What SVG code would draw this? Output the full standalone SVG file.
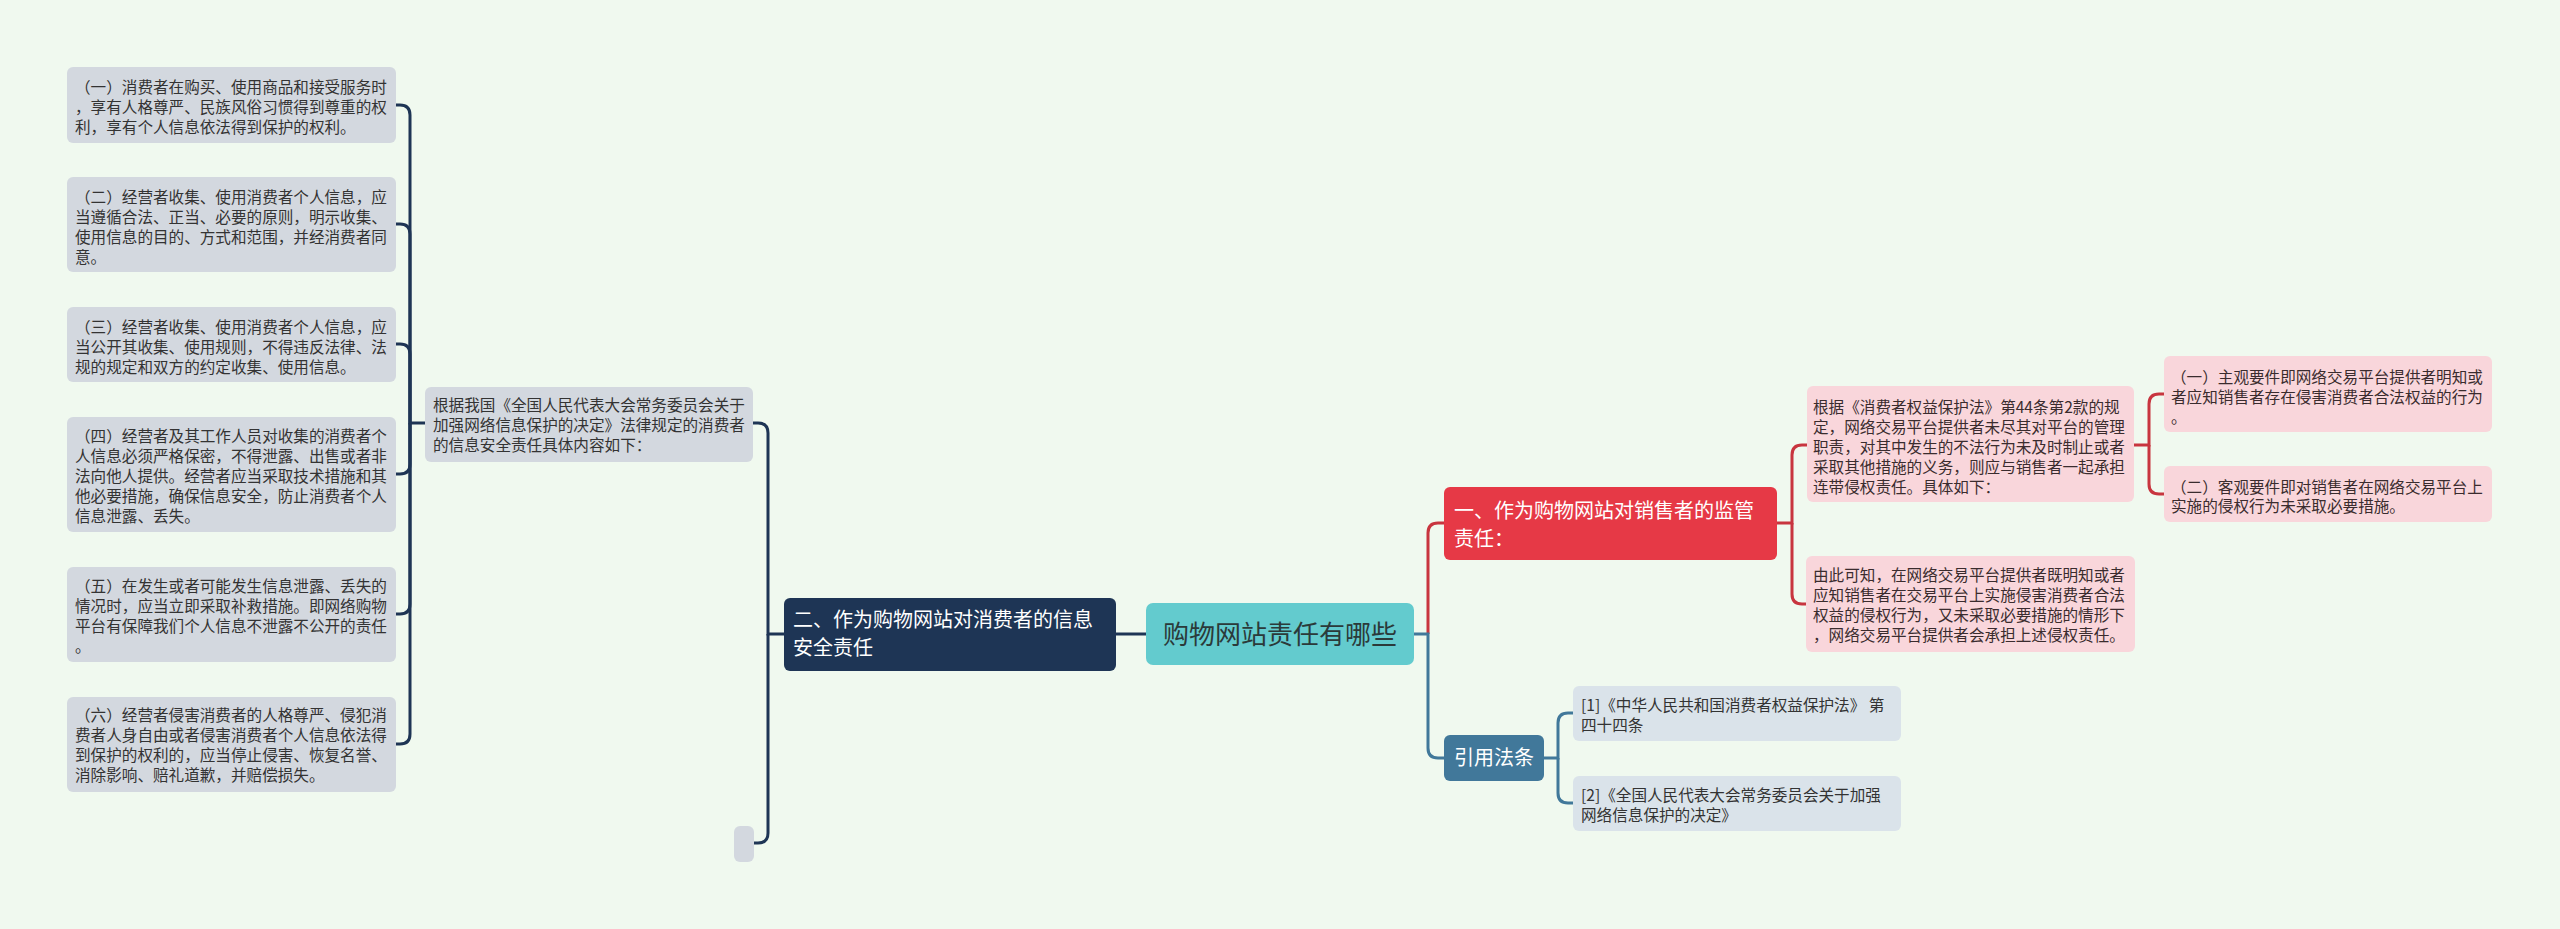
<svg xmlns="http://www.w3.org/2000/svg" width="2560" height="929" viewBox="0 0 2560 929">
<style>
text{font-family:"Noto Sans CJK SC","Noto Sans",sans-serif;}
.leaf rect{fill:#D3D8DF;}
.leaf text{font-size:15.6px;fill:#333;}
.pink rect{fill:#F9D6DB;}
.pink text{font-size:15.6px;fill:#3a2c2e;}
.ref rect{fill:#DAE3EA;}
.ref text{font-size:15.6px;fill:#333;}
.big text{font-size:20px;fill:#fff;}
.c{fill:none;stroke-width:3;}
.navy{stroke:#1E3555;}
.red{stroke:#C8353F;}
.blue{stroke:#41789A;}
</style>
<rect width="2560" height="929" fill="#F0F9EF"/>
<g id="connectors">
<path class="c navy" d="M1146,634 H1116"/>
<path class="c navy" d="M784,634 H768 V433 Q768,423 758,423 H753"/>
<path class="c navy" d="M768,634 V833 Q768,843 758,843 H754"/>
<path class="c navy" d="M425,423 H410 V115 Q410,105 400,105 H396"/>
<path class="c navy" d="M410,423 V234 Q410,224 400,224 H396"/>
<path class="c navy" d="M410,423 V354 Q410,344 400,344 H396"/>
<path class="c navy" d="M410,423 V464 Q410,474 400,474 H396"/>
<path class="c navy" d="M410,423 V604 Q410,614 400,614 H396"/>
<path class="c navy" d="M410,423 V734 Q410,744 400,744 H396"/>
<path class="c red" d="M1428,634 V533 Q1428,523 1438,523 H1444"/>
<path class="c blue" d="M1414,634 H1428 V748 Q1428,758 1438,758 H1444"/>
<path class="c red" d="M1777,523 H1792 V455 Q1792,445 1802,445 H1807"/>
<path class="c red" d="M1792,523 V594 Q1792,604 1802,604 H1806"/>
<path class="c red" d="M2134,445 H2149 V404 Q2149,394 2159,394 H2164"/>
<path class="c red" d="M2149,445 V484 Q2149,494 2159,494 H2164"/>
<path class="c blue" d="M1544,758 H1558 V723 Q1558,713 1568,713 H1573"/>
<path class="c blue" d="M1558,758 V793 Q1558,803 1568,803 H1573"/>
</g>
<g id="root">
<rect x="1146" y="603" width="268" height="62" rx="7" fill="#63CBCE"/>
<text x="1280" y="644" font-size="26" fill="#2b3a3a" text-anchor="middle">购物网站责任有哪些</text>
</g>
<g id="n2" class="big">
<rect x="784" y="598" width="332" height="73" rx="6" fill="#1E3555"/>
<text x="793" y="627">二、作为购物网站对消费者的信息</text>
<text x="793" y="655">安全责任</text>
</g>
<g id="m" class="leaf">
<rect x="425" y="387" width="328" height="75" rx="6"/>
<text x="433" y="411">根据我国《全国人民代表大会常务委员会关于</text>
<text x="433" y="431">加强网络信息保护的决定》法律规定的消费者</text>
<text x="433" y="451">的信息安全责任具体内容如下：</text>
</g>
<g id="l1" class="leaf">
<rect x="67" y="67" width="329" height="76" rx="6"/>
<text x="75" y="93">（一）消费者在购买、使用商品和接受服务时</text>
<text x="75" y="113">，享有人格尊严、民族风俗习惯得到尊重的权</text>
<text x="75" y="133">利，享有个人信息依法得到保护的权利。</text>
</g>
<g id="l2" class="leaf">
<rect x="67" y="177" width="329" height="95" rx="6"/>
<text x="75" y="203">（二）经营者收集、使用消费者个人信息，应</text>
<text x="75" y="223">当遵循合法、正当、必要的原则，明示收集、</text>
<text x="75" y="243">使用信息的目的、方式和范围，并经消费者同</text>
<text x="75" y="263">意。</text>
</g>
<g id="l3" class="leaf">
<rect x="67" y="307" width="329" height="75" rx="6"/>
<text x="75" y="333">（三）经营者收集、使用消费者个人信息，应</text>
<text x="75" y="353">当公开其收集、使用规则，不得违反法律、法</text>
<text x="75" y="373">规的规定和双方的约定收集、使用信息。</text>
</g>
<g id="l4" class="leaf">
<rect x="67" y="417" width="329" height="115" rx="6"/>
<text x="75" y="442">（四）经营者及其工作人员对收集的消费者个</text>
<text x="75" y="462">人信息必须严格保密，不得泄露、出售或者非</text>
<text x="75" y="482">法向他人提供。经营者应当采取技术措施和其</text>
<text x="75" y="502">他必要措施，确保信息安全，防止消费者个人</text>
<text x="75" y="522">信息泄露、丢失。</text>
</g>
<g id="l5" class="leaf">
<rect x="67" y="567" width="329" height="95" rx="6"/>
<text x="75" y="592">（五）在发生或者可能发生信息泄露、丢失的</text>
<text x="75" y="612">情况时，应当立即采取补救措施。即网络购物</text>
<text x="75" y="632">平台有保障我们个人信息不泄露不公开的责任</text>
<text x="75" y="652">。</text>
</g>
<g id="l6" class="leaf">
<rect x="67" y="697" width="329" height="95" rx="6"/>
<text x="75" y="721">（六）经营者侵害消费者的人格尊严、侵犯消</text>
<text x="75" y="741">费者人身自由或者侵害消费者个人信息依法得</text>
<text x="75" y="761">到保护的权利的，应当停止侵害、恢复名誉、</text>
<text x="75" y="781">消除影响、赔礼道歉，并赔偿损失。</text>
</g>
<g id="empty" class="leaf">
<rect x="734" y="826" width="20" height="36" rx="6"/>
</g>
<g id="n1" class="big">
<rect x="1444" y="487" width="333" height="73" rx="6" fill="#E63946"/>
<text x="1454" y="518">一、作为购物网站对销售者的监管</text>
<text x="1454" y="546">责任：</text>
</g>
<g id="r1" class="pink">
<rect x="1807" y="386" width="327" height="116" rx="6"/>
<text x="1813" y="413">根据《消费者权益保护法》第44条第2款的规</text>
<text x="1813" y="433">定，网络交易平台提供者未尽其对平台的管理</text>
<text x="1813" y="453">职责，对其中发生的不法行为未及时制止或者</text>
<text x="1813" y="473">采取其他措施的义务，则应与销售者一起承担</text>
<text x="1813" y="493">连带侵权责任。具体如下：</text>
</g>
<g id="r2" class="pink">
<rect x="1806" y="556" width="329" height="96" rx="6"/>
<text x="1813" y="581">由此可知，在网络交易平台提供者既明知或者</text>
<text x="1813" y="601">应知销售者在交易平台上实施侵害消费者合法</text>
<text x="1813" y="621">权益的侵权行为，又未采取必要措施的情形下</text>
<text x="1813" y="641">，网络交易平台提供者会承担上述侵权责任。</text>
</g>
<g id="a" class="pink">
<rect x="2164" y="356" width="328" height="76" rx="6"/>
<text x="2171" y="383">（一）主观要件即网络交易平台提供者明知或</text>
<text x="2171" y="403">者应知销售者存在侵害消费者合法权益的行为</text>
<text x="2171" y="423">。</text>
</g>
<g id="b" class="pink">
<rect x="2164" y="466" width="328" height="56" rx="6"/>
<text x="2171" y="493">（二）客观要件即对销售者在网络交易平台上</text>
<text x="2171" y="512">实施的侵权行为未采取必要措施。</text>
</g>
<g id="n3" class="big">
<rect x="1444" y="735" width="100" height="46" rx="6" fill="#41789A"/>
<text x="1454" y="765">引用法条</text>
</g>
<g id="ref1" class="ref">
<rect x="1573" y="686" width="328" height="55" rx="6"/>
<text x="1581" y="711">[1]《中华人民共和国消费者权益保护法》 第</text>
<text x="1581" y="731">四十四条</text>
</g>
<g id="ref2" class="ref">
<rect x="1573" y="776" width="328" height="55" rx="6"/>
<text x="1581" y="801">[2]《全国人民代表大会常务委员会关于加强</text>
<text x="1581" y="821">网络信息保护的决定》</text>
</g>
</svg>
